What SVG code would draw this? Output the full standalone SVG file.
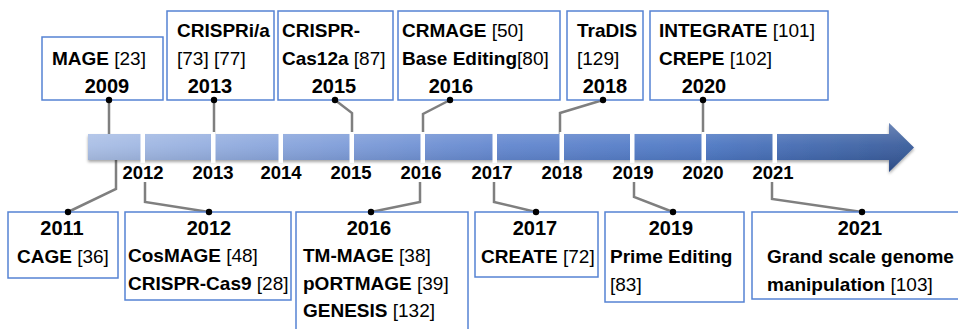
<svg xmlns="http://www.w3.org/2000/svg" width="958" height="329" viewBox="0 0 958 329">
<style>
.box{fill:#fff;stroke:#5683D3;stroke-width:1.5}
.t{font-family:"Liberation Sans",Arial,sans-serif;font-size:19px;fill:#000}
.b{font-weight:bold}
.r{font-weight:normal}
.yr{font-family:"Liberation Sans",Arial,sans-serif;font-size:20px;font-weight:bold;text-anchor:middle}
.ax{font-family:"Liberation Sans",Arial,sans-serif;font-size:18.5px;font-weight:bold;text-anchor:middle}
.con{fill:none;stroke:#7F7F7F;stroke-width:2.5}
.dot{fill:#000}
</style>
<defs>
<linearGradient id="hg" gradientUnits="userSpaceOnUse" x1="88" y1="0" x2="914" y2="0">
<stop offset="0" stop-color="#A5BBE4"/>
<stop offset="0.3" stop-color="#7898D7"/>
<stop offset="0.5" stop-color="#5A80CC"/>
<stop offset="0.75" stop-color="#4470C0"/>
<stop offset="1" stop-color="#2E5395"/>
</linearGradient>
<linearGradient id="vg" gradientUnits="userSpaceOnUse" x1="0" y1="123" x2="0" y2="172">
<stop offset="0" stop-color="#fff" stop-opacity="0.28"/>
<stop offset="0.45" stop-color="#fff" stop-opacity="0.1"/>
<stop offset="1" stop-color="#000" stop-opacity="0.15"/>
</linearGradient>
<filter id="sh" x="-5%" y="-30%" width="110%" height="160%">
<feDropShadow dx="0" dy="2" stdDeviation="1.5" flood-color="#000" flood-opacity="0.35"/>
</filter>
</defs>

<g id="connectors">
<path class="con" d="M109,100 V134"/>
<path class="con" d="M214,100 V134"/>
<path class="con" d="M335,100 L352,113 V134"/>
<path class="con" d="M450,100 L423,114 V134"/>
<path class="con" d="M603,100 L560,113 V134"/>
<path class="con" d="M703,100 V134"/>
<path class="con" d="M116,159 V189 L68,212"/>
<path class="con" d="M145,182 V202 L209,212"/>
<path class="con" d="M420,182 V202 L371,212"/>
<path class="con" d="M494,182 V202 L536,212"/>
<path class="con" d="M634,182 V197 L673,212"/>
<path class="con" d="M772,182 V199 L862,212"/>
</g>

<g id="timeline">
<g filter="url(#sh)">
<path d="M88,134 H889 V123 L914,147.5 L889,172 V160 H88 Z" fill="url(#hg)"/>
</g>
<path d="M88,134 H889 V123 L914,147.5 L889,172 V160 H88 Z" fill="url(#vg)"/>
<g fill="#fff">
<rect x="140.5" y="132" width="4.5" height="31"/>
<rect x="211" y="132" width="4.5" height="31"/>
<rect x="278.5" y="132" width="4.5" height="31"/>
<rect x="349.5" y="132" width="4.5" height="31"/>
<rect x="420.5" y="132" width="4.5" height="31"/>
<rect x="492.5" y="132" width="4.5" height="31"/>
<rect x="559.5" y="132" width="4.5" height="31"/>
<rect x="630" y="132" width="4.5" height="31"/>
<rect x="701.5" y="132" width="4.5" height="31"/>
<rect x="772.5" y="132" width="4.5" height="31"/>
</g>
<text class="ax" x="143" y="179">2012</text>
<text class="ax" x="213" y="179">2013</text>
<text class="ax" x="281" y="179">2014</text>
<text class="ax" x="351" y="179">2015</text>
<text class="ax" x="421" y="179">2016</text>
<text class="ax" x="492" y="179">2017</text>
<text class="ax" x="562" y="179">2018</text>
<text class="ax" x="633" y="179">2019</text>
<text class="ax" x="703" y="179">2020</text>
<text class="ax" x="773" y="179">2021</text>
</g>

<g id="n2009">
<rect class="box" x="42" y="37" width="121" height="63"/>
<text class="t" x="52" y="65"><tspan class="b">MAGE</tspan> [23]</text>
<text class="yr" x="107" y="93">2009</text>
<circle class="dot" cx="109" cy="100" r="3.2"/>
</g>
<g id="n2013">
<rect class="box" x="167" y="11" width="107" height="89"/>
<text class="t b" x="177" y="37">CRISPRi/a</text>
<text class="t" x="177" y="65">[73] [77]</text>
<text class="yr" x="210" y="93">2013</text>
<circle class="dot" cx="214" cy="100" r="3.2"/>
</g>
<g id="n2015">
<rect class="box" x="278" y="11" width="115" height="89"/>
<text class="t b" x="282" y="37">CRISPR-</text>
<text class="t" x="282" y="65"><tspan class="b">Cas12a</tspan> [87]</text>
<text class="yr" x="334" y="93">2015</text>
<circle class="dot" cx="335" cy="100" r="3.2"/>
</g>
<g id="n2016top">
<rect class="box" x="398" y="11" width="162" height="89"/>
<text class="t" x="402" y="37"><tspan class="b">CRMAGE</tspan> [50]</text>
<text class="t" x="402" y="65"><tspan class="b">Base Editing</tspan>[80]</text>
<text class="yr" x="451" y="93">2016</text>
<circle class="dot" cx="450" cy="100" r="3.2"/>
</g>
<g id="n2018">
<rect class="box" x="567" y="11" width="76" height="89"/>
<text class="t b" x="577" y="37">TraDIS</text>
<text class="t" x="577" y="65">[129]</text>
<text class="yr" x="605" y="93">2018</text>
<circle class="dot" cx="603" cy="100" r="3.2"/>
</g>
<g id="n2020">
<rect class="box" x="650" y="11" width="178" height="89"/>
<text class="t" x="659" y="37"><tspan class="b">INTEGRATE</tspan> [101]</text>
<text class="t" x="659" y="65"><tspan class="b">CREPE</tspan> [102]</text>
<text class="yr" x="704" y="93">2020</text>
<circle class="dot" cx="703" cy="100" r="3.2"/>
</g>

<g id="n2011">
<rect class="box" x="8" y="212" width="110" height="66"/>
<text class="yr" x="62" y="235">2011</text>
<text class="t" x="17" y="263"><tspan class="b">CAGE</tspan> [36]</text>
<circle class="dot" cx="68" cy="212" r="3.2"/>
</g>
<g id="n2012">
<rect class="box" x="125" y="212" width="166" height="88"/>
<text class="yr" x="209" y="235">2012</text>
<text class="t" x="128" y="262"><tspan class="b">CosMAGE</tspan> [48]</text>
<text class="t" x="128" y="290"><tspan class="b">CRISPR-Cas9</tspan> [28]</text>
<circle class="dot" cx="209" cy="212" r="3.2"/>
</g>
<g id="n2016bottom">
<rect class="box" x="296" y="212" width="172" height="120"/>
<text class="yr" x="369" y="235">2016</text>
<text class="t" x="303" y="262"><tspan class="b">TM-MAGE</tspan> [38]</text>
<text class="t" x="303" y="290"><tspan class="b">pORTMAGE</tspan> [39]</text>
<text class="t" x="303" y="317"><tspan class="b">GENESIS</tspan> [132]</text>
<circle class="dot" cx="371" cy="212" r="3.2"/>
</g>
<g id="n2017">
<rect class="box" x="475" y="212" width="123" height="65"/>
<text class="yr" x="535" y="235">2017</text>
<text class="t" x="481" y="263"><tspan class="b">CREATE</tspan> [72]</text>
<circle class="dot" cx="536" cy="212" r="3.2"/>
</g>
<g id="n2019">
<rect class="box" x="605" y="212" width="139" height="90"/>
<text class="yr" x="671" y="235">2019</text>
<text class="t b" x="610" y="263">Prime Editing</text>
<text class="t" x="610" y="291">[83]</text>
<circle class="dot" cx="673" cy="212" r="3.2"/>
</g>
<g id="n2021">
<rect class="box" x="752" y="212" width="220" height="87"/>
<text class="yr" x="860" y="235">2021</text>
<text class="t b" x="767" y="263">Grand scale genome</text>
<text class="t" x="767" y="291"><tspan class="b">manipulation</tspan> [103]</text>
<circle class="dot" cx="862" cy="212" r="3.2"/>
</g>
</svg>
